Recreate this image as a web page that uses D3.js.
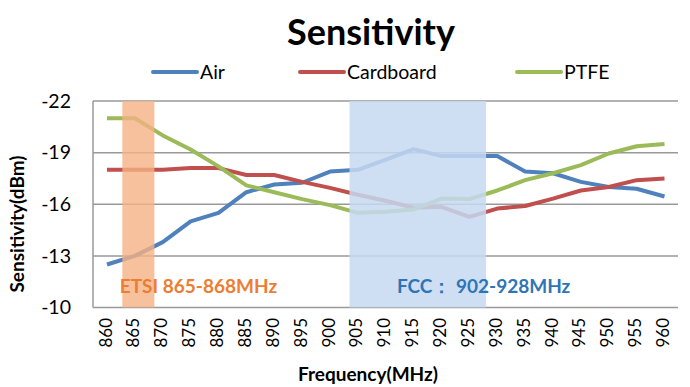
<!DOCTYPE html>
<html><head><meta charset="utf-8">
<script src="https://cdn.jsdelivr.net/npm/d3@7"></script>
<style>body{margin:0;background:#fff}svg{display:block}</style>
</head><body><svg id="c" width="690" height="387"></svg>
<script>
const freqs = [860,865,870,875,880,885,890,895,900,905,910,915,920,925,930,935,940,945,950,955,960];
const air = [-12.5,-13.0,-13.8,-15.0,-15.5,-16.7,-17.15,-17.25,-17.9,-18.0,-18.6,-19.2,-18.8,-18.8,-18.8,-17.9,-17.8,-17.3,-17.0,-16.9,-16.45];
const cardboard = [-18.0,-18.0,-18.0,-18.1,-18.1,-17.7,-17.7,-17.3,-16.95,-16.55,-16.2,-15.8,-15.85,-15.27,-15.75,-15.9,-16.33,-16.8,-17.0,-17.4,-17.5];
const ptfe = [-21.0,-21.0,-20.0,-19.18,-18.2,-17.1,-16.7,-16.3,-15.95,-15.5,-15.56,-15.7,-16.33,-16.3,-16.8,-17.4,-17.8,-18.27,-18.95,-19.37,-19.5];
const yTicks = [-10,-13,-16,-19,-22];
const seriesNames = ["Air","Cardboard","PTFE"];
const seriesColors = ["#4F81BD","#C0504D","#9BBB59"];
const bands = [
  {label:"ETSI 865-868MHz", from:862.75, to:868.5, fill:"#F4B183", opacity:0.8, text:"#ED7D31", tx:862.3},
  {label:"FCC\uFF1A 902-928MHz", from:903.5, to:928.0, fill:"#C5D9F1", opacity:0.85, text:"#2E75B6", tx:912.0}
];

const svg = d3.select("#c");
const font = "Lato, 'Open Sans', sans-serif";
const x = d3.scaleLinear().domain([860,960]).range([107,664.5]);
const y = d3.scaleLinear().domain([-10,-22]).range([307.5,101]);
const left = 93, right = 678;

// gridlines
svg.append("g").selectAll("line").data(yTicks).join("line")
  .attr("x1",left).attr("x2",right).attr("y1",d=>y(d)).attr("y2",d=>y(d))
  .attr("stroke","#999").attr("stroke-width",1.5);
svg.append("line").attr("x1",left).attr("x2",left).attr("y1",y(-22)).attr("y2",y(-10))
  .attr("stroke","#999").attr("stroke-width",1.5);

// y axis labels
const yAxis = d3.axisLeft(y).tickValues(yTicks).tickSize(0).tickPadding(0).tickFormat(d=>d);
const ya = svg.append("g").attr("transform",`translate(71,0)`).call(yAxis);
ya.select(".domain").remove();
ya.selectAll("text").attr("font-family",font).attr("font-size",19.5).attr("fill","#000");

// x axis labels
const xAxis = d3.axisBottom(x).tickValues(freqs).tickSize(0).tickFormat(d=>d);
const xa = svg.append("g").call(xAxis);
xa.select(".domain").remove();
xa.selectAll("text").attr("font-family",font).attr("font-size",17).attr("fill","#000")
  .attr("text-anchor","end").attr("dy",null).attr("y",null)
  .attr("transform","translate(4,318) rotate(-90)");

// lines
const line = d3.line().x((d,i)=>x(freqs[i])).y(d=>y(d));
[air,cardboard,ptfe].forEach((s,k)=>{
  svg.append("path").datum(s).attr("d",line).attr("fill","none")
    .attr("stroke",seriesColors[k]).attr("stroke-width",4).attr("stroke-linejoin","round");
});

// bands overlay
svg.append("g").selectAll("rect").data(bands).join("rect")
  .attr("x",d=>x(d.from)).attr("width",d=>x(d.to)-x(d.from))
  .attr("y",y(-22)).attr("height",y(-10)-y(-22))
  .attr("fill",d=>d.fill).attr("opacity",d=>d.opacity);

svg.append("g").selectAll("text").data(bands).join("text")
  .attr("x",d=>x(d.tx)).attr("y",293).text(d=>d.label)
  .attr("font-family",font).attr("font-weight","bold").attr("font-size",19)
  .attr("fill",d=>d.text);

// title
svg.append("text").attr("x",371).attr("y",45).attr("text-anchor","middle")
  .attr("font-family",font).attr("font-weight","bold").attr("font-size",36).text("Sensitivity");

// legend
const legX = [153,300,517];
seriesNames.forEach((n,k)=>{
  svg.append("line").attr("x1",legX[k]).attr("x2",legX[k]+44).attr("y1",72).attr("y2",72)
    .attr("stroke",seriesColors[k]).attr("stroke-width",4).attr("stroke-linecap","round");
  svg.append("text").attr("x",legX[k]+47).attr("y",79).text(n)
    .attr("font-family",font).attr("font-size",19.5).attr("fill","#000");
});

// axis titles
svg.append("text").attr("x",368).attr("y",381).attr("text-anchor","middle")
  .attr("font-family",font).attr("font-weight","bold").attr("font-size",19).text("Frequency(MHz)");
svg.append("text").attr("transform","translate(24,224) rotate(-90)").attr("text-anchor","middle")
  .attr("font-family",font).attr("font-weight","bold").attr("font-size",19).text("Sensitivity(dBm)");
</script></body></html>
